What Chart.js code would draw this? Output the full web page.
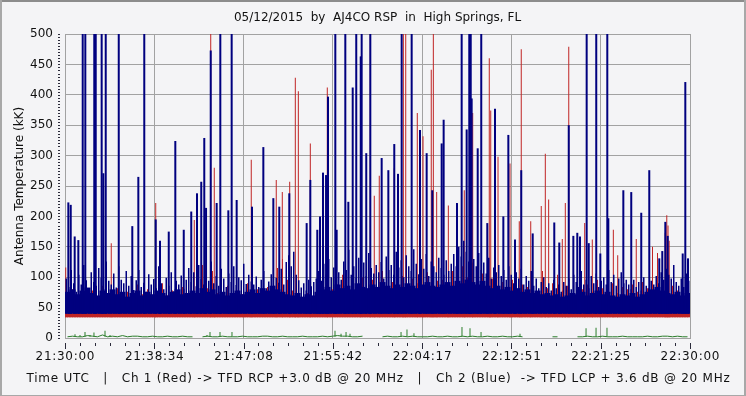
<!DOCTYPE html>
<html lang="en">
<head>
<meta charset="UTF-8">
<title>AJ4CO RSP - 05/12/2015</title>
<script src="https://cdn.jsdelivr.net/npm/chart.js"></script>
<style>
  html, body { margin: 0; padding: 0; background: #f4f4f6; }
  canvas { display: block; }
</style>
</head>
<body>
<canvas id="rspChart" width="746" height="396"></canvas>
<script>
// time axis in minutes after 21:30:00 UTC
const SPAN_MIN = 60;
const timeLabels = ['21:30:00', '21:38:34', '21:47:08', '21:55:42', '22:04:17', '22:12:51', '22:21:25', '22:30:00'];
const titleText = '05/12/2015  by  AJ4CO RSP  in  High Springs, FL';
const captionText = 'Time UTC   |   Ch 1 (Red) -> TFD RCP +3.0 dB @ 20 MHz   |   Ch 2 (Blue)  -> TFD LCP + 3.6 dB @ 20 MHz';

// lower edge of each channel's noise floor (kK)
const BLUE_FLOOR = 40;
const RED_FLOOR = 34;

// Ch 2 (blue) dense noise level, 125 bins
const blueCore = [
  76, 80, 72, 78, 83, 74, 70, 78, 74, 80, 72, 76, 68, 74, 78, 70, 76, 72, 78, 74, 70, 76, 80, 72, 74,
  78, 74, 82, 76, 80, 72, 76, 70, 74, 78, 72, 76, 80, 74, 82, 78, 86, 80, 76, 72, 70, 74, 68, 72, 70,
  76, 80, 84, 78, 88, 82, 86, 80, 90, 84, 82, 88, 84, 92, 86, 82, 88, 84, 90, 86, 82, 88, 92, 86, 84,
  88, 92, 86, 94, 90, 96, 92, 88, 94, 86, 82, 86, 80, 84, 78, 82, 76, 80, 74, 78, 72, 74, 70, 72, 68,
  70, 74, 72, 76, 70, 74, 78, 72, 76, 70, 68, 72, 70, 74, 68, 72, 76, 80, 84, 78, 74, 72, 76, 70, 74
];

// Ch 2 (blue) peak of each short interval, 250 bins
const blueBand = [
  98, 84, 112, 90, 76, 104, 88, 120, 95, 82, 108, 92, 86, 115, 99, 80, 126, 94, 88, 106, 83, 118, 96, 90, 110,
  86, 102, 79, 95, 112, 84, 91, 76, 105, 88, 97, 82, 118, 90, 80, 99, 86, 108, 77, 94, 88, 103, 81, 96, 115,
  92, 108, 85, 120, 97, 88, 112, 94, 126, 90, 102, 86, 114, 98, 84, 106, 92, 118, 87, 100, 95, 122, 89, 104, 93,
  88, 101, 84, 96, 110, 82, 93, 105, 86, 99, 91, 114, 88, 125, 136, 118, 142, 104, 95, 83, 90, 78, 96, 85, 92,
  98, 110, 94, 122, 105, 130, 100, 116, 138, 108, 96, 126, 112, 145, 104, 118, 99, 132, 110, 124, 102, 140, 115, 106, 120,
  108, 125, 98, 134, 112, 120, 104, 142, 116, 128, 100, 136, 118, 110, 146, 122, 105, 130, 114, 138, 102, 126, 118, 108, 132,
  115, 104, 128, 110, 122, 138, 118, 150, 134, 160, 142, 126, 155, 130, 118, 140, 112, 124, 106, 132, 98, 116, 108, 120, 102,
  112, 96, 118, 104, 90, 108, 98, 114, 88, 102, 94, 110, 86, 98, 82, 92, 100, 84, 90, 78, 96, 82, 88, 76, 92,
  86, 98, 80, 104, 92, 84, 110, 88, 96, 82, 102, 90, 106, 84, 94, 100, 88, 112, 92, 104, 86, 98, 108, 90, 96,
  88, 80, 96, 84, 92, 78, 100, 86, 82, 94, 88, 102, 90, 108, 96, 114, 104, 98, 120, 92, 86, 98, 84, 106, 94
];

// Ch 1 (red) peak of each short interval, 125 bins
const redBand = [
  72, 80, 66, 95, 70, 78, 64, 86, 74, 68, 82, 70, 76, 66, 88, 72, 80, 68, 74, 90, 70, 78, 66, 84, 72,
  76, 68, 120, 82, 110, 74, 70, 86, 66, 78, 72, 90, 68, 80, 74, 84, 70, 115, 130, 96, 78, 70, 66, 74, 68,
  82, 76, 94, 80, 88, 104, 78, 92, 86, 100, 80, 96, 84, 110, 78, 92, 88, 102, 82, 98, 90, 86, 108, 84, 94,
  96, 88, 110, 92, 118, 100, 124, 94, 106, 88, 98, 84, 92, 80, 96, 78, 88, 84, 100, 76, 110, 82, 90, 104, 78,
  86, 74, 92, 80, 88, 76, 96, 82, 78, 90, 74, 84, 80, 88, 76, 92, 82, 150, 140, 96, 80, 86, 78, 90, 84
];

// reference trace (green), 125 bins
const greenLine = [
  2, 3, 2, 2, 4, 3, 2, 5, 2, 3, 2, 4, 2, 3, 3, 2, 2, 3, 2, 2, 3, 2, 2, 3, 2,
  2, null, 2, 3, 2, 2, 3, 2, 2, 2, 3, 2, 2, 2, 3, 3, 2, 2, 3, 2, 2, 2, 3, 2, 2,
  2, 3, 2, 3, 4, 3, 3, 2, 2, 3, null, 2, null, 2, 3, 2, 2, 3, 2, 3, 2, 2, 2, 3, 2,
  2, 3, 2, 2, 3, 2, 3, 2, 2, 3, 2, 2, 3, 2, 2, 3, 2, null, 2, null, 2, null, 2, 2, null,
  2, null, 2, 2, 3, 2, 2, 3, 2, 2, 2, 3, 2, 2, 2, 2, 3, 2, 2, 3, 3, 2, 3, 2, 2
];

// bursts (minutes, kK); 650 = off scale
const blueSpikeT = [0.32, 0.55, 0.93, 1.28, 1.70, 1.95, 2.81, 2.95, 3.52, 3.68, 3.91, 5.16, 6.46, 7.04, 7.61, 8.71,
  9.12, 9.96, 10.59, 11.40, 12.12, 12.67, 13.08, 13.37, 13.54, 13.99, 14.56, 14.91, 15.68, 16.00, 16.48, 17.95,
  19.04, 20.00, 20.57, 21.53, 23.20, 23.55, 24.22, 24.48, 24.77, 25.06, 25.25, 25.95, 26.08, 26.91, 27.20, 27.62,
  27.96, 28.39, 28.48, 28.92, 29.31, 30.40, 31.04, 31.61, 31.97, 32.32, 33.28, 34.08, 34.72, 35.26, 36.16, 36.35,
  37.63, 38.08, 38.56, 38.81, 38.95, 39.04, 39.62, 39.96, 40.54, 41.28, 42.08, 42.56, 43.20, 43.80, 44.90, 46.97,
  47.45, 48.36, 48.80, 49.18, 49.44, 50.08, 50.28, 51.00, 51.39, 52.06, 52.16, 53.60, 54.36, 55.32, 56.09, 57.05,
  57.34, 57.63, 57.86, 59.30, 59.55, 59.81];
const blueSpikeV = [223, 219, 167, 161, 650, 650, 650, 650, 650, 271, 650, 650, 184, 265, 650, 195,
  160, 175, 324, 178, 208, 238, 257, 329, 214, 473, 222, 650, 210, 650, 227, 216,
  314, 230, 216, 238, 189, 260, 178, 200, 272, 268, 397, 650, 178, 650, 224, 412,
  650, 463, 650, 304, 650, 296, 276, 319, 270, 650, 650, 342, 304, 243, 320, 359,
  222, 650, 343, 650, 650, 394, 312, 650, 189, 377, 200, 334, 162, 276, 172, 190,
  157, 350, 168, 173, 167, 650, 156, 650, 139, 650, 197, 243, 240, 206, 276, 131,
  143, 191, 168, 139, 421, 131];

const redSpikeT = [0.07, 4.44, 8.71, 12.41, 13.99, 14.33, 17.88, 20.28, 20.86, 21.57, 22.11, 22.40, 23.55, 25.18,
  28.39, 29.31, 29.69, 30.17, 31.61, 32.48, 32.71, 33.82, 34.37, 35.16, 35.36, 35.68, 36.80, 38.33, 39.14, 40.73,
  40.87, 41.57, 42.72, 43.61, 43.80, 44.71, 45.72, 46.11, 46.43, 47.74, 48.03, 48.36, 49.89, 50.62, 52.64, 53.06,
  54.84, 57.62, 57.77, 57.89, 58.00];
const redSpikeV = [116, 156, 222, 194, 650, 280, 293, 260, 240, 257, 428, 406, 320, 412,
  463, 650, 234, 267, 279, 650, 650, 370, 332, 441, 650, 240, 218, 243, 370, 460,
  374, 298, 287, 192, 475, 192, 217, 303, 228, 163, 222, 479, 189, 162, 178, 136,
  163, 173, 202, 185, 160];

const greenSpikeT = [0.96, 1.44, 1.92, 2.40, 2.78, 3.84, 4.32, 13.63, 13.92, 14.88, 16.03, 25.92, 26.50, 26.98,
  27.36, 32.26, 32.83, 33.50, 38.11, 38.88, 39.94, 43.68, 50.02, 50.98, 52.03];
const greenSpikeV = [6, 5, 10, 5, 9, 12, 5, 5, 10, 10, 10, 12, 7, 10,
  7, 10, 14, 8, 18, 16, 10, 7, 16, 17, 17];

const binX = (i, n) => (i + 0.5) * SPAN_MIN / n;
const bandPoints = (arr, floor) => arr.map((v, i) => ({ x: binX(i, arr.length), y: [floor, v] }));
const spikePoints = (ts, vs, floor) => ts.map((t, i) => ({ x: t, y: [floor, vs[i]] }));

const BLUE = '#00007f';
const RED = '#c02424';
const GREEN = '#2b7d2b';
const TEXT = '#111';
const FONT = '12px "DejaVu Sans"';

const frameTicks = {
  id: 'frameTicks',
  beforeDraw(chart) {
    const { ctx, width, height } = chart;
    ctx.save();
    ctx.fillStyle = '#f4f4f6';
    ctx.fillRect(0, 0, width, height);
    ctx.restore();
  },
  afterDraw(chart) {
    const { ctx, width, height, chartArea, scales } = chart;
    const x = scales.x, y = scales.y;
    ctx.save();
    // minor ticks under the time axis
    ctx.fillStyle = '#2a2a3a';
    for (let k = 0; k <= 42; k++) {
      const px = Math.round(x.getPixelForValue(k * SPAN_MIN / 42));
      ctx.fillRect(px, chartArea.bottom + 5, 1, k % 6 === 0 ? 6 : 3);
    }
    // dotted minor ticks beside the temperature axis
    for (let v = 0; v <= 500; v += 5) {
      const py = Math.round(y.getPixelForValue(v));
      ctx.fillRect(chartArea.left - 7, py, 2, 1);
    }
    // text: title, time labels, caption
    ctx.fillStyle = TEXT;
    ctx.font = FONT;
    ctx.textBaseline = 'middle';
    ctx.textAlign = 'center';
    ctx.fillText(titleText, (chartArea.left + chartArea.right) / 2, 18);
    ctx.letterSpacing = '0.7px';
    x.ticks.forEach((t, i) => ctx.fillText(timeLabels[i], x.getPixelForValue(t.value) + 0.35, chartArea.bottom + 19));
    ctx.letterSpacing = '0px';
    const w = ctx.measureText(captionText).width;
    ctx.letterSpacing = ((703 - w) / (captionText.length - 1)).toFixed(2) + 'px';
    ctx.fillText(captionText, (chartArea.left + chartArea.right) / 2 + 1, chartArea.bottom + 41);
    ctx.letterSpacing = '0px';
    // window frame
    ctx.fillStyle = '#8c8c8c';
    ctx.fillRect(0, 0, width, 2);
    ctx.fillStyle = '#a8a8a8';
    ctx.fillRect(0, 0, 2, height);
    ctx.fillRect(width - 2, 0, 2, height);
    ctx.fillRect(0, height - 1, width, 1);
    ctx.restore();
  }
};

const ctx = document.getElementById('rspChart').getContext('2d');
new Chart(ctx, {
  type: 'bar',
  data: {
    datasets: [
      { type: 'line', data: greenLine.map((v, i) => ({ x: binX(i, greenLine.length), y: v })),
        borderColor: GREEN, borderWidth: 1, pointRadius: 0, spanGaps: false, order: 8 },
      { data: spikePoints(greenSpikeT, greenSpikeV, 2), backgroundColor: GREEN, barThickness: 1, order: 7 },
      { data: redBand.map((v, i) => ({ x: binX(i, redBand.length), y: [RED_FLOOR, BLUE_FLOOR + 3] })),
        backgroundColor: RED, barThickness: 6, order: 6 },
      { data: bandPoints(redBand, RED_FLOOR), backgroundColor: RED, barThickness: 1, order: 5 },
      { data: spikePoints(redSpikeT, redSpikeV, RED_FLOOR), backgroundColor: RED, barThickness: 1, order: 4 },
      { data: bandPoints(blueCore, BLUE_FLOOR), backgroundColor: BLUE, barThickness: 6, order: 3 },
      { data: bandPoints(blueBand, BLUE_FLOOR), backgroundColor: BLUE, barThickness: 1.5, order: 2 },
      { data: spikePoints(blueSpikeT, blueSpikeV, BLUE_FLOOR), backgroundColor: BLUE, barThickness: 2, order: 1 }
    ]
  },
  options: {
    responsive: false,
    animation: false,
    events: [],
    layout: { padding: { left: 0, right: 56, top: 34, bottom: 0 } },
    datasets: { bar: { grouped: false, borderWidth: 0, inflateAmount: 0 } },
    plugins: {
      legend: { display: false },
      tooltip: { enabled: false },
      title: { display: false }
    },
    scales: {
      x: {
        type: 'linear',
        min: 0,
        max: SPAN_MIN,
        offset: false,
        afterBuildTicks: s => { s.ticks = timeLabels.map((l, i) => ({ value: i * SPAN_MIN / (timeLabels.length - 1) })); },
        afterFit: s => { s.height = 58; },
        ticks: { display: false },
        grid: { color: '#a2a2a2', lineWidth: 1, drawTicks: false, offset: false },
        border: { display: true, color: '#a2a2a2' }
      },
      y: {
        min: 0,
        max: 500,
        afterFit: s => { s.width = 65; },
        ticks: { stepSize: 50, padding: 12, color: TEXT, font: { family: 'DejaVu Sans', size: 12 } },
        grid: { color: '#a2a2a2', lineWidth: 1, drawTicks: false },
        border: { display: true, color: '#a2a2a2' },
        title: {
          display: true,
          text: 'Antenna Temperature (kK)',
          color: TEXT,
          font: { family: 'DejaVu Sans', size: 12 },
          padding: { top: 13, bottom: 0 }
        }
      }
    }
  },
  plugins: [frameTicks]
});
</script>
</body>
</html>
